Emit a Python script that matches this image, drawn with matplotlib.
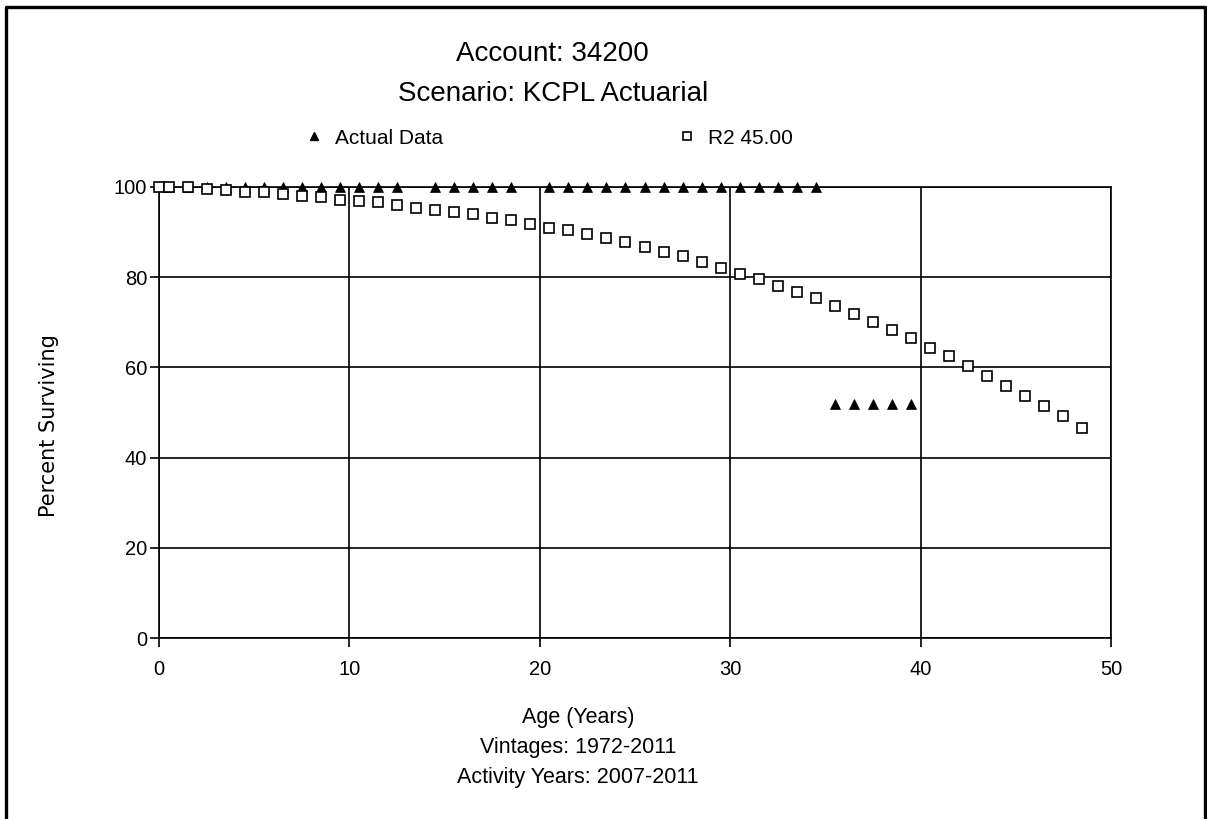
import matplotlib
matplotlib.use("Agg")
import matplotlib.pyplot as plt
from matplotlib.lines import Line2D

plt.rcParams["font.family"] = ["Liberation Sans", "DejaVu Sans"]

# Observed retirement ratios (Actual Data)
actual_age = [0.5, 1.5, 2.5, 3.5, 4.5, 5.5, 6.5, 7.5, 8.5, 9.5, 10.5, 11.5, 12.5,
              14.5, 15.5, 16.5, 17.5, 18.5,
              20.5, 21.5, 22.5, 23.5, 24.5, 25.5, 26.5, 27.5, 28.5, 29.5,
              30.5, 31.5, 32.5, 33.5, 34.5,
              35.5, 36.5, 37.5, 38.5, 39.5]
actual_pct = [100] * 13 + [100] * 5 + [100] * 15 + [51.8] * 5

# Fitted Iowa curve R2, 45-year average life
curve_age = [0, 0.5, 1.5, 2.5, 3.5, 4.5, 5.5, 6.5, 7.5, 8.5, 9.5,
             10.5, 11.5, 12.5, 13.5, 14.5, 15.5, 16.5, 17.5, 18.5, 19.5,
             20.5, 21.5, 22.5, 23.5, 24.5, 25.5, 26.5, 27.5, 28.5, 29.5,
             30.5, 31.5, 32.5, 33.5, 34.5, 35.5, 36.5, 37.5, 38.5, 39.5,
             40.5, 41.5, 42.5, 43.5, 44.5, 45.5, 46.5, 47.5, 48.5]
curve_pct = [100.0, 100.0, 99.9, 99.5, 99.3, 99.0, 98.8, 98.4, 98.0, 97.7, 97.2,
             96.9, 96.6, 95.9, 95.3, 94.9, 94.5, 94.0, 93.2, 92.7, 91.8,
             91.0, 90.5, 89.6, 88.7, 87.8, 86.6, 85.6, 84.7, 83.4, 82.0,
             80.7, 79.6, 78.1, 76.7, 75.4, 73.6, 71.8, 70.0, 68.3, 66.5,
             64.3, 62.5, 60.3, 58.1, 55.9, 53.7, 51.4, 49.2, 46.6]

x_ticks = [0, 10, 20, 30, 40, 50]
y_ticks = [0, 20, 40, 60, 80, 100]

title_lines = ["Account: 34200", "Scenario: KCPL Actuarial"]
xlabel_lines = ["Age (Years)", "Vintages: 1972-2011", "Activity Years: 2007-2011"]

W, H = 1207, 819
fig = plt.figure(figsize=(W / 100, H / 100), dpi=100)
fig.patch.set_facecolor("white")

ax = fig.add_axes([159 / W, 1 - 638 / H, (1111 - 159) / W, (638 - 187) / H])
ax.set_xlim(0, 50)
ax.set_ylim(0, 100)
ax.set_xticks(x_ticks)
ax.set_yticks(y_ticks)
ax.tick_params(axis="both", direction="out", length=6.5, width=1.2,
               color="black", labelsize=14.5)
ax.tick_params(axis="x", pad=9)
ax.tick_params(axis="y", pad=2)
ax.grid(True, color="black", linewidth=1.2)
ax.set_axisbelow(True)
for sp in ax.spines.values():
    sp.set_linewidth(1.2)
    sp.set_color("black")

ax.plot(actual_age, actual_pct, linestyle="none", marker="^", markersize=7.5,
        color="black", markeredgewidth=0.5, zorder=3, clip_on=False,
        label="Actual Data")
ax.plot(curve_age, curve_pct, linestyle="none", marker="s", markersize=6.7,
        markerfacecolor="white", markeredgecolor="black", markeredgewidth=1.2,
        zorder=4, clip_on=False, label="R2 45.00")

ax.set_ylabel("Percent Surviving", fontsize=15, labelpad=0,
              family=["DejaVu Sans"])
ax.yaxis.set_label_coords((59 - 159) / (1111 - 159),
                          1 - (426 - 187) / (638 - 187))

# Titles
fig.text(552 / W, 1 - 54 / H, title_lines[0], ha="center", va="center", fontsize=20)
fig.text(553 / W, 1 - 94 / H, title_lines[1], ha="center", va="center", fontsize=20)

# Legend
handles = [
    Line2D([], [], linestyle="none", marker="^", markersize=6, color="black"),
    Line2D([], [], linestyle="none", marker="s", markersize=6,
           markerfacecolor="white", markeredgecolor="black", markeredgewidth=1.2),
]
fig.legend(handles, ["Actual Data", "R2 45.00"], ncol=2, frameon=False,
           loc="center left", bbox_to_anchor=(306 / W, 1 - 138 / H),
           fontsize=15, handlelength=0.8, handletextpad=0.6,
           columnspacing=11.3, borderpad=0, borderaxespad=0)

# Multi-line x axis caption
for i, line in enumerate(xlabel_lines):
    fig.text(578 / W, 1 - (717 + 30 * i) / H, line, ha="center", va="center",
             fontsize=15.5)

# Frame around the chart (open at the bottom)
fx = [6 / W, 6 / W, 1205 / W, 1205 / W]
fy = [0, 1 - 7 / H, 1 - 7 / H, 0]
fig.add_artist(Line2D(fx, fy, color="black", linewidth=2.4,
                      transform=fig.transFigure))

fig.savefig("out.png", dpi=100)
